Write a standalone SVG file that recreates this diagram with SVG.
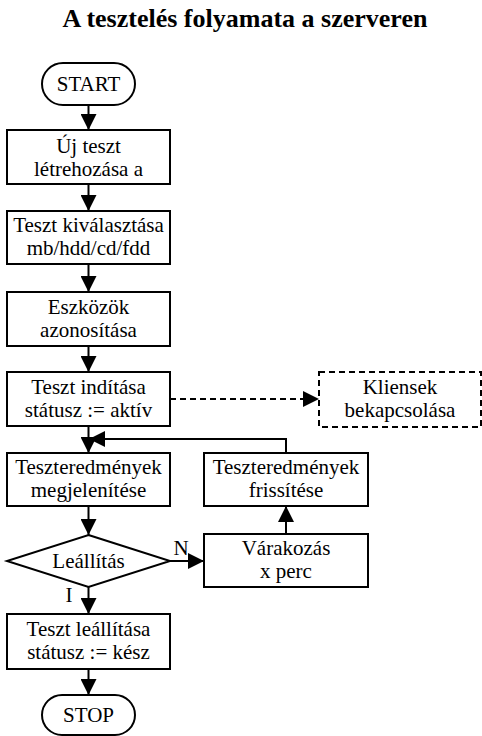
<svg xmlns="http://www.w3.org/2000/svg" width="482" height="736" viewBox="0 0 482 736" font-family="'Liberation Serif', 'Times New Roman', serif">
<defs>
<marker id="ah" markerWidth="16" markerHeight="16" refX="16" refY="8" orient="auto" markerUnits="userSpaceOnUse">
<path d="M0,0 L16,8 L0,16 Z" fill="#000"/>
</marker>
</defs>
<style>
.n{fill:#fff;stroke:#000;stroke-width:2}
.d{fill:#fff;stroke:#000;stroke-width:2;stroke-dasharray:6 4}
.t{font-family:'Liberation Serif','Times New Roman',serif;font-size:21px;text-anchor:middle;fill:#000}
.c{fill:none;stroke:#000;stroke-width:2}
</style>
<rect width="482" height="736" fill="#fff"/>
<text x="245" y="27" font-family="'Liberation Serif', 'Times New Roman', serif" font-size="26" font-weight="bold" text-anchor="middle">A tesztelés folyamata a szerveren</text>
<g id="connectors">
<path class="c" d="M88.5,105 V130" marker-end="url(#ah)"/>
<path class="c" d="M88.5,184 V211" marker-end="url(#ah)"/>
<path class="c" d="M88.5,264 V292" marker-end="url(#ah)"/>
<path class="c" d="M88.5,346 V372" marker-end="url(#ah)"/>
<path class="c" d="M170,399 H319" stroke-dasharray="6 4" marker-end="url(#ah)"/>
<path class="c" d="M88.5,426 V453" marker-end="url(#ah)"/>
<path class="c" d="M286,453 V439 H89" marker-end="url(#ah)"/>
<path class="c" d="M88.5,506 V535" marker-end="url(#ah)"/>
<path class="c" d="M170,561 H204" marker-end="url(#ah)"/>
<path class="c" d="M286,534 V506" marker-end="url(#ah)"/>
<path class="c" d="M88.5,587 V614" marker-end="url(#ah)"/>
<path class="c" d="M88.5,669 V695" marker-end="url(#ah)"/>
<text class="t" x="181" y="555" font-family="'Liberation Serif', serif">N</text>
<text class="t" x="69" y="602" font-family="'Liberation Serif', serif">I</text>
</g>
<g id="start">
<rect class="n" x="42" y="63" width="93" height="42" rx="21"/>
<text class="t" x="88.5" y="91">START</text>
</g>
<g id="uj">
<rect class="n" x="7" y="130" width="163" height="54"/>
<text class="t" x="88.5" y="153">Új teszt</text>
<text class="t" x="88.5" y="176">létrehozása a</text>
</g>
<g id="kival">
<rect class="n" x="7" y="211" width="163" height="53"/>
<text class="t" x="88.5" y="232">Teszt kiválasztása</text>
<text class="t" x="88.5" y="255">mb/hdd/cd/fdd</text>
</g>
<g id="eszk">
<rect class="n" x="7" y="292" width="163" height="54"/>
<text class="t" x="88.5" y="314">Eszközök</text>
<text class="t" x="88.5" y="337">azonosítása</text>
</g>
<g id="indit">
<rect class="n" x="7" y="372" width="163" height="54"/>
<text class="t" x="88.5" y="394">Teszt indítása</text>
<text class="t" x="88.5" y="417">státusz := aktív</text>
</g>
<g id="kliens">
<rect class="d" x="319" y="372" width="162" height="55"/>
<text class="t" x="400" y="394">Kliensek</text>
<text class="t" x="400" y="417">bekapcsolása</text>
</g>
<g id="megjel">
<rect class="n" x="7" y="453" width="163" height="53"/>
<text class="t" x="88.5" y="474">Teszteredmények</text>
<text class="t" x="88.5" y="497">megjelenítése</text>
</g>
<g id="friss">
<rect class="n" x="204" y="453" width="164" height="53"/>
<text class="t" x="286" y="474">Teszteredmények</text>
<text class="t" x="286" y="497">frissítése</text>
</g>
<g id="leall">
<polygon class="n" points="88.5,535 170,561 88.5,587 7,561"/>
<text class="t" x="88.5" y="568">Leállítás</text>
</g>
<g id="varak">
<rect class="n" x="204" y="534" width="164" height="53"/>
<text class="t" x="286" y="555">Várakozás</text>
<text class="t" x="286" y="578">x perc</text>
</g>
<g id="tleall">
<rect class="n" x="7" y="614" width="163" height="55"/>
<text class="t" x="88.5" y="636">Teszt leállítása</text>
<text class="t" x="88.5" y="659">státusz := kész</text>
</g>
<g id="stop">
<rect class="n" x="42" y="695" width="93" height="40" rx="20"/>
<text class="t" x="88.5" y="722">STOP</text>
</g>
</svg>
